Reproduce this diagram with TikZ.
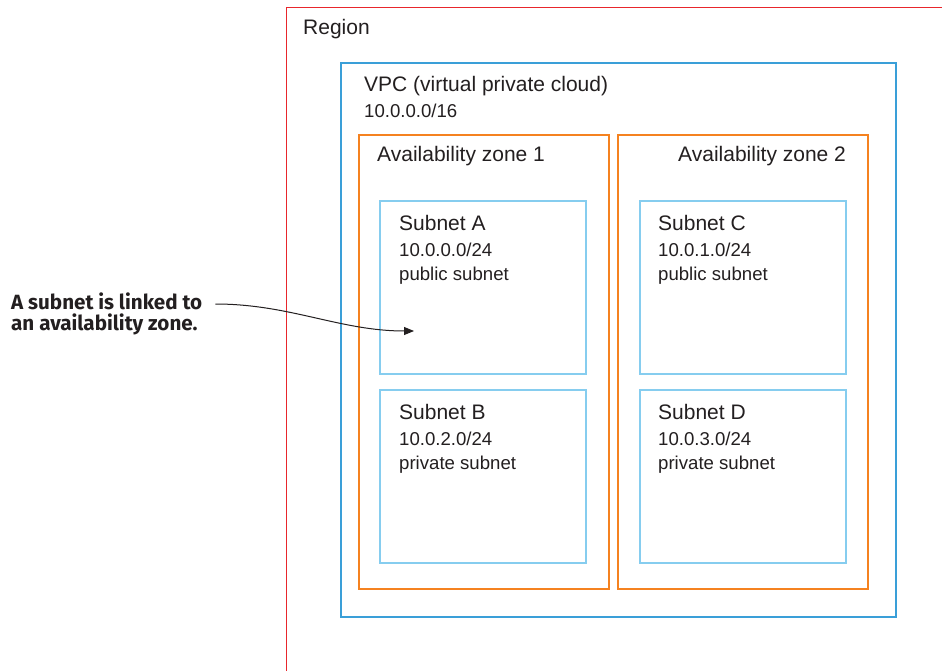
\documentclass[tikz,border=0pt]{standalone}
\usepackage{fontspec}
\setmainfont{Liberation Sans}
\newfontfamily\annfont{Fira Sans}
\usetikzlibrary{arrows.meta}
\definecolor{regionred}{HTML}{E8262C}
\definecolor{vpcblue}{HTML}{3A9FD8}
\definecolor{azorange}{HTML}{F58220}
\definecolor{subblue}{HTML}{86CDEF}
\definecolor{txt}{HTML}{231F20}
\tikzset{
  box/.style={draw, anchor=north west, inner sep=0pt, outer sep=0pt},
  regionbox/.style={box, draw=regionred, line width=1pt},
  vpcbox/.style={box, draw=vpcblue, line width=1.8pt},
  azbox/.style={box, draw=azorange, line width=1.3pt, minimum width=250pt, minimum height=454pt},
  subbox/.style={box, draw=subblue, line width=1.3pt, minimum width=206pt, minimum height=173pt},
  head/.style={anchor=base west, inner sep=0pt, text=txt, font=\fontsize{21}{24}\selectfont},
  sub/.style={anchor=base west, inner sep=0pt, text=txt, font=\fontsize{18.6}{22}\selectfont},
  ann/.style={anchor=base west, inner sep=0pt, align=left, text=txt, font=\annfont\bfseries\fontsize{20.6}{21}\selectfont},
  link/.style={draw=txt, line width=1pt, -{Triangle[length=10pt,width=8pt]}}
}
\begin{document}
\begin{tikzpicture}[x=1pt,y=-1pt]
\useasboundingbox (0,0) rectangle (942,671);
\clip (0,0) rectangle (942,671);
\fill[white] (0,0) rectangle (942,671);
% region
\node[regionbox, minimum width=700pt, minimum height=700pt] (region) at (286,8) {};
\node[head] (regionlbl) at (303,35) {Region};
% vpc
\node[vpcbox, minimum width=555pt, minimum height=554pt] (vpc) at (341,63) {};
\node[head] (vpclbl) at (364,92) {VPC (virtual private cloud)};
\node[sub] (vpccidr) at (364,118) {10.0.0.0/16};
% availability zones
\node[azbox] (az1) at (359,135) {};
\node[head] (az1lbl) at (377,162) {Availability zone 1};
\node[azbox] (az2) at (618,135) {};
\node[head] (az2lbl) at (678,162) {Availability zone 2};
% subnets
\node[subbox] (subA) at (380,201) {};
\node[head] (subAt) at (399,230) {Subnet A};
\node[sub] (subAc) at (399,256) {10.0.0.0/24};
\node[sub] (subAd) at (399,280) {public subnet};
\node[subbox] (subB) at (380,390) {};
\node[head] (subBt) at (399,419) {Subnet B};
\node[sub] (subBc) at (399,445) {10.0.2.0/24};
\node[sub] (subBd) at (399,469) {private subnet};
\node[subbox] (subC) at (640,201) {};
\node[head] (subCt) at (658,230) {Subnet C};
\node[sub] (subCc) at (658,256) {10.0.1.0/24};
\node[sub] (subCd) at (658,280) {public subnet};
\node[subbox] (subD) at (640,390) {};
\node[head] (subDt) at (658,419) {Subnet D};
\node[sub] (subDc) at (658,445) {10.0.3.0/24};
\node[sub] (subDd) at (658,469) {private subnet};
% annotation
\node[ann] (ann) at (11,330) {A subnet is linked to\\an availability zone.};
\coordinate (tip) at (414,331);
\draw[link] ([xshift=13pt]ann.east |- 0,304) .. controls (290,304) and (340,331) .. (tip);
\end{tikzpicture}
\end{document}
